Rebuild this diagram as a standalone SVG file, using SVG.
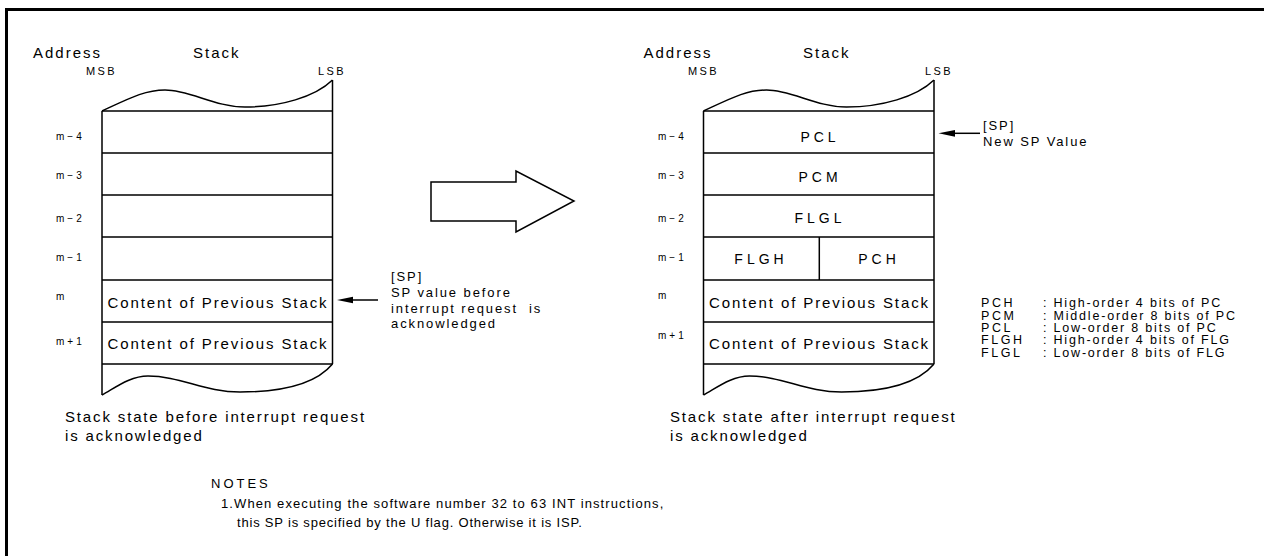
<svg xmlns="http://www.w3.org/2000/svg" width="1264" height="556" viewBox="0 0 1264 556">
<style>
text{font-family:"Liberation Sans",Arial,Helvetica,sans-serif;fill:#000}
.ln{stroke:#000;stroke-width:1.5;fill:none}
.h{font-size:15px;letter-spacing:2px}
.sm{font-size:11px;letter-spacing:2.4px}
.ad{font-size:10px;letter-spacing:3px}
.cell{font-size:15px;letter-spacing:1.9px;text-anchor:middle}
.reg{font-size:14px;letter-spacing:4px;text-anchor:middle}
.sp{font-size:13px;letter-spacing:1.9px}
.lg{font-size:12.5px;letter-spacing:1.8px}
.nt{font-size:13px;letter-spacing:1.1px}
</style>
<defs>
<g id="stackShape">
<path class="ln" d="M102,111 C130,98 145,90 165,90 C190,90 215,107 245,107 C280,107 315,97 332.5,80"/>
<path class="ln" d="M102,395 C115,388 130,376 148,376 C180,376 205,392 240,392 C280,392 315,385 332.5,364"/>
<path class="ln" d="M102,111 V395 M332.5,80 V364"/>
<path class="ln" d="M102,111 H332.5 M102,153 H332.5 M102,195 H332.5 M102,237 H332.5 M102,280 H332.5 M102,322 H332.5 M102,364 H332.5"/>
</g>
</defs>

<path d="M6.5,556 V9.5 H1264" fill="none" stroke="#000" stroke-width="3"/>

<g id="left-stack">
<text class="h" x="33" y="58">Address</text>
<text class="h" x="193" y="58">Stack</text>
<text class="sm" x="86" y="75">MSB</text>
<text class="sm" x="318" y="75">LSB</text>
<use href="#stackShape"/>
<text class="ad" x="56" y="140">m−4</text>
<text class="ad" x="56" y="179">m−3</text>
<text class="ad" x="56" y="221.5">m−2</text>
<text class="ad" x="56" y="261">m−1</text>
<text class="ad" x="56" y="300">m</text>
<text class="ad" x="56" y="345">m+1</text>
<text class="cell" x="218" y="307.5">Content of Previous Stack</text>
<text class="cell" x="218" y="349">Content of Previous Stack</text>
<text class="h" x="65" y="421.7" style="letter-spacing:1.85px">Stack state before interrupt request</text>
<text class="h" x="65" y="440.5" style="letter-spacing:1.85px">is acknowledged</text>
</g>

<g id="left-sp-note">
<text class="sp" x="391" y="280.5">[SP]</text>
<text class="sp" x="391" y="296.5">SP value before</text>
<text class="sp" x="391" y="312.5" style="white-space:pre">interrupt request  is</text>
<text class="sp" x="391" y="328">acknowledged</text>
</g>

<g id="transition-arrow">
<polygon points="431,182 516,182 516,171 574,201 516,232 516,221 431,221" fill="#fff" stroke="#000" stroke-width="1.5"/>
</g>

<g id="right-stack">
<text class="h" x="643.5" y="58">Address</text>
<text class="h" x="803" y="58">Stack</text>
<text class="sm" x="688" y="75">MSB</text>
<text class="sm" x="925" y="75">LSB</text>
<use href="#stackShape" transform="translate(601.5,0)"/>
<path class="ln" d="M819.3,237 V280"/>
<text class="ad" x="658" y="140">m−4</text>
<text class="ad" x="658" y="179">m−3</text>
<text class="ad" x="658" y="221.5">m−2</text>
<text class="ad" x="658" y="261">m−1</text>
<text class="ad" x="658" y="298.5">m</text>
<text class="ad" x="658" y="339">m+1</text>
<text class="reg" x="820" y="141.5">PCL</text>
<text class="reg" x="820" y="181.5">PCM</text>
<text class="reg" x="820" y="223">FLGL</text>
<text class="reg" x="761" y="263.5">FLGH</text>
<text class="reg" x="879" y="263.5">PCH</text>
<text class="cell" x="819.5" y="307.5">Content of Previous Stack</text>
<text class="cell" x="819.5" y="349">Content of Previous Stack</text>
<text class="h" x="670" y="421.7" style="letter-spacing:1.85px">Stack state after interrupt request</text>
<text class="h" x="670" y="440.5" style="letter-spacing:1.85px">is acknowledged</text>
</g>

<g id="right-sp-note">
<text class="sp" x="983" y="130">[SP]</text>
<text class="sp" x="983" y="146">New SP Value</text>
</g>

<g id="legend">
<text class="lg" x="981" y="307" style="letter-spacing:2.6px">PCH</text>
<text class="lg" x="981" y="319.5" style="letter-spacing:2.6px">PCM</text>
<text class="lg" x="981" y="332" style="letter-spacing:2.6px">PCL</text>
<text class="lg" x="981" y="344" style="letter-spacing:2.6px">FLGH</text>
<text class="lg" x="981" y="356.5" style="letter-spacing:2.6px">FLGL</text>
<text class="lg" x="1043" y="307">: High-order 4 bits of PC</text>
<text class="lg" x="1043" y="319.5">: Middle-order 8 bits of PC</text>
<text class="lg" x="1043" y="332">: Low-order 8 bits of PC</text>
<text class="lg" x="1043" y="344">: High-order 4 bits of FLG</text>
<text class="lg" x="1043" y="356.5">: Low-order 8 bits of FLG</text>
</g>

<g id="notes">
<text class="nt" x="211" y="488" style="letter-spacing:3px">NOTES</text>
<text class="nt" x="221" y="508">1.When executing the software number 32 to 63 INT instructions,</text>
<text class="nt" x="237" y="527" style="letter-spacing:0.8px">this SP is specified by the U flag. Otherwise it is ISP.</text>
</g>

<g id="connectors">
<path class="ln" d="M378,300 H350"/>
<polygon points="337,300 353,296.7 353,303.3" fill="#000"/>
<path class="ln" d="M980,133.3 H952"/>
<polygon points="938.5,133.3 955,130 955,136.7" fill="#000"/>
</g>
</svg>
